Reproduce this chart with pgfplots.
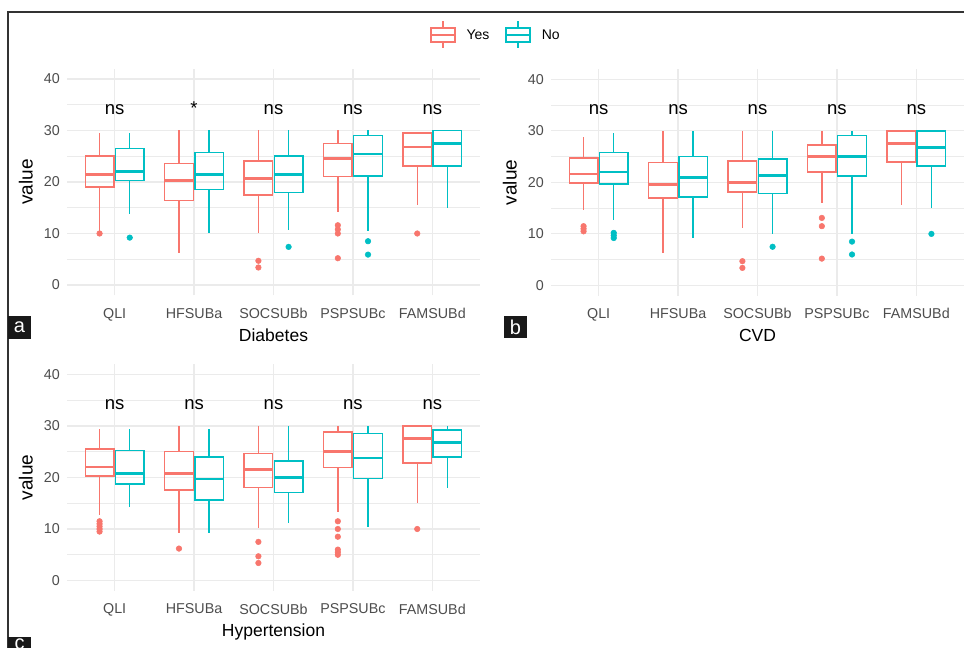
\documentclass[border=0pt]{standalone}
\usepackage{fontspec}
\setmainfont{Liberation Sans}
\usepackage{pgfplots}
\pgfplotsset{compat=1.18}
\usepgfplotslibrary{statistics}
\definecolor{yescol}{HTML}{F8766D}
\definecolor{nocol}{HTML}{00BFC4}
\definecolor{gridc}{HTML}{EBEBEB}
\definecolor{tickc}{HTML}{4D4D4D}
\definecolor{framec}{HTML}{333333}

\pgfplotsset{
 panel/.style={
  scale only axis, width=413pt, height=226.6pt,
  xmin=0.4, xmax=5.6, ymin=-2, ymax=42,
  xtick={1,2,3,4,5}, xticklabels={QLI,HFSUBa,SOCSUBb,PSPSUBc,FAMSUBd},
  ytick={0,10,20,30,40}, minor ytick={5,15,25,35},
  grid=both,
  major grid style={draw=gridc, line width=1.2pt},
  minor grid style={draw=gridc, line width=0.6pt},
  axis line style={draw=none},
  major tick length=0pt, minor tick length=0pt,
  tick style={draw=none},
  /pgf/number format/assume math mode=true,
  tick label style={font=\fontsize{14.3}{16}\selectfont, text=tickc, inner sep=0pt},
  xticklabel style={yshift=-12.7pt},
  yticklabel style={xshift=-7pt},
  every axis x label/.style={at={([yshift=-33pt]axis description cs:0.5,0)}, anchor=north, inner sep=0pt, font=\fontsize{17.5}{20}\selectfont},
  every axis y label/.style={at={([xshift=-34pt]axis description cs:0,0.5)}, anchor=south, rotate=90, inner sep=0pt, font=\fontsize{19}{20}\selectfont},
  ylabel={value},
 },
 bp/.style={forget plot, solid, line width=1.5pt, mark=*, mark size=2.8pt,
   boxplot/draw direction=y,
   boxplot/box extend=0.36, boxplot/whisker extend=0,
   boxplot/every box/.style={line width=1.5pt},
   boxplot/every whisker/.style={line width=1.5pt},
   boxplot/every median/.style={line width=2.6pt}},
}
\tikzset{ns/.style={anchor=base, font=\fontsize{18.5}{20}\selectfont, inner sep=0pt}}

% color, position, lower whisker, Q1, median, Q3, upper whisker, outliers
\newcommand{\bx}[8]{\addplot[bp, draw=#1, mark options={fill=#1, draw=#1, solid, line width=0.5pt}, boxplot prepared={draw position=#2, lower whisker=#3, lower quartile=#4, median=#5, upper quartile=#6, upper whisker=#7}] coordinates {#8};}

\newcommand{\nslabels}[1]{%
 \node[ns] at (axis cs:1,33.2) {ns};
 \node[ns] at (axis cs:2,33.2) {#1};
 \node[ns] at (axis cs:3,33.2) {ns};
 \node[ns] at (axis cs:4,33.2) {ns};
 \node[ns] at (axis cs:5,33.2) {ns};}

\begin{document}
\begin{tikzpicture}
\clip (0pt,0pt) rectangle (964pt,648pt);
\fill[white] (0pt,0pt) rectangle (964pt,648pt);

% ---------- panel a : Diabetes ----------
\begin{axis}[panel, at={(67pt,352.7pt)}, anchor=south west, xlabel={Diabetes},
  legend columns=2,
  legend style={at={(axis description cs:1.0387,1.1487)}, anchor=center, draw=none, fill=none,
    font=\fontsize{14}{16}\selectfont,
    /tikz/every odd column/.append style={column sep=9pt},
    /tikz/every even column/.append style={column sep=14pt}}]
\bx{yescol}{0.81}{10.5}{19.0}{21.5}{25.0}{29.5}{(0,10.0)}
\bx{nocol}{1.19}{13.7}{20.3}{22.0}{26.5}{29.5}{(0,9.2)}
\bx{yescol}{1.81}{6.2}{16.4}{20.3}{23.6}{30}{}
\bx{nocol}{2.19}{10.0}{18.5}{21.5}{25.7}{30}{}
\bx{yescol}{2.81}{10.0}{17.5}{20.7}{24.1}{30}{(0,4.7)(0,3.4)}
\bx{nocol}{3.19}{10.7}{18.0}{21.5}{25.0}{30}{(0,7.4)}
\bx{yescol}{3.81}{14.2}{21.1}{24.6}{27.5}{30}{(0,11.6)(0,10.8)(0,10.0)(0,5.2)}
\bx{nocol}{4.19}{10.4}{21.2}{25.4}{29.0}{30}{(0,8.5)(0,5.9)}
\bx{yescol}{4.81}{15.5}{23.1}{26.8}{29.5}{29.8}{(0,10.0)}
\bx{nocol}{5.19}{14.9}{23.1}{27.5}{30}{30}{}
\nslabels{*}
\addlegendimage{legend image code/.code={\draw[yescol,line width=1.4pt] (0pt,-7pt) rectangle (24pt,7pt); \draw[yescol,line width=1.4pt] (0pt,0pt)--(24pt,0pt) (12pt,7pt)--(12pt,13.5pt) (12pt,-7pt)--(12pt,-13.5pt);}}
\addlegendentry{Yes}
\addlegendimage{legend image code/.code={\draw[nocol,line width=1.4pt] (0pt,-7pt) rectangle (24pt,7pt); \draw[nocol,line width=1.4pt] (0pt,0pt)--(24pt,0pt) (12pt,7pt)--(12pt,13.5pt) (12pt,-7pt)--(12pt,-13.5pt);}}
\addlegendentry{No}
\end{axis}

% ---------- panel b : CVD ----------
\begin{axis}[panel, at={(551pt,352.3pt)}, anchor=south west, xlabel={CVD}]
\bx{yescol}{0.81}{14.6}{19.9}{21.6}{24.7}{28.8}{(0,11.5)(0,11.0)(0,10.5)}
\bx{nocol}{1.19}{12.7}{19.7}{22.0}{25.8}{29.5}{(0,10.2)(0,9.7)(0,9.2)}
\bx{yescol}{1.81}{6.3}{17.0}{19.6}{23.9}{30}{}
\bx{nocol}{2.19}{9.3}{17.2}{20.9}{25.0}{30}{}
\bx{yescol}{2.81}{11.2}{18.1}{20.0}{24.2}{30}{(0,4.7)(0,3.4)}
\bx{nocol}{3.19}{10.0}{17.8}{21.3}{24.5}{30}{(0,7.5)}
\bx{yescol}{3.81}{16.0}{22.0}{25.0}{27.3}{30}{(0,13.1)(0,11.5)(0,5.2)}
\bx{nocol}{4.19}{10.0}{21.2}{25.0}{29.1}{30}{(0,8.5)(0,6.0)}
\bx{yescol}{4.81}{15.6}{24.0}{27.5}{30}{30}{}
\bx{nocol}{5.19}{15.0}{23.2}{26.8}{30}{30}{(0,10.0)}
\nslabels{ns}
\end{axis}

% ---------- panel c : Hypertension ----------
\begin{axis}[panel, at={(67pt,57.2pt)}, anchor=south west, xlabel={Hypertension}]
\bx{yescol}{0.81}{12.7}{20.3}{22.0}{25.5}{29.5}{(0,11.5)(0,11.0)(0,10.5)(0,10.0)(0,9.5)}
\bx{nocol}{1.19}{14.2}{18.7}{20.8}{25.2}{29.5}{}
\bx{yescol}{1.81}{9.3}{17.6}{20.8}{25.0}{30}{(0,6.2)}
\bx{nocol}{2.19}{9.3}{15.6}{19.7}{24.0}{29.5}{}
\bx{yescol}{2.81}{10.1}{18.1}{21.6}{24.7}{30}{(0,7.5)(0,4.7)(0,3.4)}
\bx{nocol}{3.19}{11.2}{17.1}{20.0}{23.2}{30}{}
\bx{yescol}{3.81}{13.3}{21.9}{25.0}{28.8}{30}{(0,11.5)(0,10.0)(0,8.5)(0,6.0)(0,5.5)(0,5.0)}
\bx{nocol}{4.19}{10.4}{19.8}{23.8}{28.5}{30}{}
\bx{yescol}{4.81}{15.0}{22.8}{27.6}{30}{30}{(0,10.0)}
\bx{nocol}{5.19}{18.0}{24.0}{26.8}{29.2}{30}{}
\nslabels{ns}
\end{axis}

% ---------- frame and panel tags ----------
\draw[framec, line width=1.2pt] (8pt,0pt) -- (8pt,636pt) -- (964pt,636pt);
\fill[black!90] (8pt,309pt) rectangle (31pt,332pt);
\node[text=white, font=\fontsize{20}{20}\selectfont, inner sep=0pt] at (19.5pt,320.5pt) {a};
\fill[black!90] (504pt,310pt) rectangle (527pt,332pt);
\node[text=white, font=\fontsize{20}{20}\selectfont, inner sep=0pt] at (515.5pt,321pt) {b};
\fill[black!90] (8pt,-12pt) rectangle (31pt,11pt);
\node[text=white, font=\fontsize{20}{20}\selectfont, inner sep=0pt, anchor=base] at (19.5pt,-1.5pt) {c};
\end{tikzpicture}
\end{document}
